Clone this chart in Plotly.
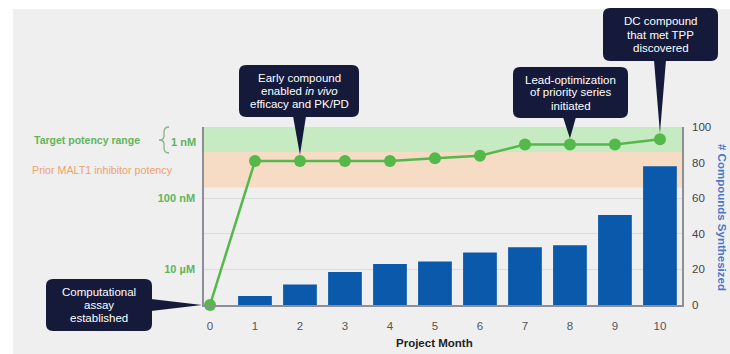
import numpy as np
import plotly.graph_objects as go

# ---- data -------------------------------------------------------------
months = list(range(11))
compounds_synthesized = [0, 5, 11.5, 18.5, 23, 24.5, 29.5, 32.5, 33.5, 50.5, 78]
best_potency_nm = [100000, 9, 9, 9, 9, 7.6, 6.4, 3.1, 3.1, 3.1, 2.2]

potency_tick_nm = [100, 10000]
potency_tick_text = ["100 nM", "10 µM"]
count_ticks = [0, 20, 40, 60, 80, 100]

target_band_nm = (1, 5)      # target potency range
prior_band_nm = (5, 50)      # prior MALT1 inhibitor potency

callouts = [
    dict(lines=["Computational", "assay", "established"], month=0,
         box=(46, 279, 152, 331), side="right", base=(299, 311)),
    dict(lines=["Early compound", "enabled <i>in vivo</i>", "efficacy and PK/PD"], month=2,
         box=(239, 65, 359, 117), side="down", base=(293, 306)),
    dict(lines=["Lead-optimization", "of priority series", "initiated"], month=8,
         box=(513, 67, 628, 118), side="down", base=(563, 576)),
    dict(lines=["DC compound", "that met TPP", "discovered"], month=10,
         box=(603, 8, 718, 61), side="down", base=(654, 666)),
]

# ---- layout constants -------------------------------------------------
W, H = 730, 354
PL, PR, PT, PB = 204, 682, 127, 305
X_RANGE = [-0.133, 10.49]
LOG_RANGE = [5, 0]           # log10(nM), 100 µM at the bottom, 1 nM at the top
MARKER_R = 6

GREEN = "#55b84a"
GREEN_TEXT = "#5fb65a"
ORANGE_TEXT = "#f0a267"
BAR_BLUE = "#0b59aa"
NAVY = "#161a3a"
BG = "#efeff0"
AXIS_GRAY = "#8e8e9b"
FONT = "Liberation Sans, Arial, sans-serif"


def to_paper(px, py):
    return (px - PL) / (PR - PL), (PB - py) / (PB - PT)


def pt(px, py):
    x, y = to_paper(px, py)
    return f"{x:.5f},{y:.5f}"


def month_px(m):
    return PL + (m - X_RANGE[0]) / (X_RANGE[1] - X_RANGE[0]) * (PR - PL)


def potency_py(nm):
    frac = (np.log10(nm) - LOG_RANGE[0]) / (LOG_RANGE[1] - LOG_RANGE[0])
    return PB - frac * (PB - PT)


def rounded_box(x0, y0, x1, y1, r):
    return (f"M {pt(x0 + r, y0)} L {pt(x1 - r, y0)} Q {pt(x1, y0)} {pt(x1, y0 + r)} "
            f"L {pt(x1, y1 - r)} Q {pt(x1, y1)} {pt(x1 - r, y1)} "
            f"L {pt(x0 + r, y1)} Q {pt(x0, y1)} {pt(x0, y1 - r)} "
            f"L {pt(x0, y0 + r)} Q {pt(x0, y0)} {pt(x0 + r, y0)} Z")


fig = go.Figure()

fig.add_trace(go.Bar(
    x=months, y=compounds_synthesized, yaxis="y2",
    marker=dict(color=BAR_BLUE, line=dict(width=0)), width=0.75,
    hoverinfo="skip",
))
fig.add_trace(go.Scatter(
    x=months, y=best_potency_nm, yaxis="y", mode="lines+markers",
    line=dict(color=GREEN, width=2.5),
    marker=dict(color=GREEN, size=2 * MARKER_R),
    cliponaxis=False, hoverinfo="skip",
))

shapes = [
    # page background
    dict(type="rect", xref="paper", yref="paper", layer="below",
         x0=to_paper(13, 0)[0], x1=to_paper(W + 5, 0)[0],
         y0=to_paper(0, H + 5)[1], y1=to_paper(0, 9)[1],
         fillcolor=BG, line=dict(width=0)),
    # potency bands (data values on the log axis)
    dict(type="rect", xref="x", yref="y", layer="between",
         x0=X_RANGE[0], x1=X_RANGE[1],
         y0=target_band_nm[0], y1=target_band_nm[1],
         fillcolor="#c6eac1", line=dict(width=0)),
    dict(type="rect", xref="x", yref="y", layer="between",
         x0=X_RANGE[0], x1=X_RANGE[1],
         y0=prior_band_nm[0], y1=prior_band_nm[1],
         fillcolor="#f6dbc5", line=dict(width=0)),
    # brace next to the target range label
    dict(type="path", xref="paper", yref="paper", layer="above",
         path=(f"M {pt(169, 127)} Q {pt(164, 127)} {pt(164, 132)} L {pt(164, 136)} "
               f"Q {pt(164, 140)} {pt(159, 140)} Q {pt(164, 140)} {pt(164, 144)} "
               f"L {pt(164, 148)} Q {pt(164, 153)} {pt(169, 153)}"),
         line=dict(color="#86b486", width=1.3)),
]

annotations = []
for c in callouts:
    x0, y0, x1, y1 = c["box"]
    mx = month_px(c["month"])
    my = potency_py(best_potency_nm[c["month"]])
    if c["side"] == "right":
        tip = (mx - MARKER_R - 2, my)
        tri = f"M {pt(x1 - 1, c['base'][0])} L {pt(*tip)} L {pt(x1 - 1, c['base'][1])} Z"
    else:
        tip = (mx, my - MARKER_R)
        tri = f"M {pt(c['base'][0], y1 - 1)} L {pt(*tip)} L {pt(c['base'][1], y1 - 1)} Z"
    shapes.append(dict(type="path", xref="paper", yref="paper", layer="above",
                       path=rounded_box(x0, y0, x1, y1, 7),
                       fillcolor=NAVY, line=dict(width=0)))
    shapes.append(dict(type="path", xref="paper", yref="paper", layer="above",
                       path=tri, fillcolor=NAVY, line=dict(width=0)))
    cx = (x0 + x1) / 2
    cy = (y0 + y1) / 2
    n = len(c["lines"])
    for i, line in enumerate(c["lines"]):
        ly = cy + (i - (n - 1) / 2) * 13
        ax, ay = to_paper(cx, ly)
        annotations.append(dict(x=ax, y=ay, xref="paper", yref="paper",
                                text=line, showarrow=False,
                                xanchor="center", yanchor="middle",
                                font=dict(family=FONT, size=11.5, color="#ffffff")))


def label(text, px, py, anchor, color, size=11, bold=False, angle=0):
    x, y = to_paper(px, py)
    annotations.append(dict(x=x, y=y, xref="paper", yref="paper", text=text,
                            showarrow=False, xanchor=anchor, yanchor="middle",
                            textangle=angle,
                            font=dict(family=FONT, size=size, color=color,
                                      weight="bold" if bold else "normal")))


label("Target potency range", 32, 140, "left", GREEN_TEXT, 10.5, True)
label("1 nM", 198, 142, "right", GREEN_TEXT, 11, True)
label("Prior MALT1 inhibitor potency", 30, 170, "left", ORANGE_TEXT, 10.7)
label("Project Month", (PL + PR) / 2 - 9, 343, "center", "#222222", 11.5, True)
label("# Compounds Synthesized", 722, 217, "center", "#4a78c8", 11.5, True, angle=90)

fig.update_layout(
    width=W, height=H,
    margin=dict(l=PL, r=W - PR, t=PT, b=H - PB, autoexpand=False),
    paper_bgcolor="#ffffff", plot_bgcolor=BG,
    showlegend=False, barmode="overlay",
    font=dict(family=FONT, size=11.5, color="#555555"),
    xaxis=dict(range=X_RANGE, tickvals=months, ticktext=[str(m) for m in months],
               showgrid=False, zeroline=False, showline=True,
               linecolor=AXIS_GRAY, linewidth=1.5, ticks="",
               ticklabelstandoff=9,
               tickfont=dict(size=11.5, color="#555555")),
    yaxis=dict(type="log", range=LOG_RANGE, tickvals=potency_tick_nm,
               ticktext=potency_tick_text, showgrid=False, zeroline=False,
               showline=True, linecolor=AXIS_GRAY, linewidth=1.5, ticks="",
               ticklabelstandoff=5,
               tickfont=dict(size=11, color=GREEN_TEXT, weight="bold")),
    yaxis2=dict(overlaying="y", side="right", range=[0, 100], tickvals=count_ticks,
                showgrid=True, gridcolor="#dcdcde", gridwidth=1, zeroline=False,
                showline=True, linecolor=AXIS_GRAY, linewidth=1.5, ticks="",
                ticklabelstandoff=6,
                tickfont=dict(size=11.5, color="#444444")),
    shapes=shapes,
    annotations=annotations,
)

fig.write_html("out.html")
